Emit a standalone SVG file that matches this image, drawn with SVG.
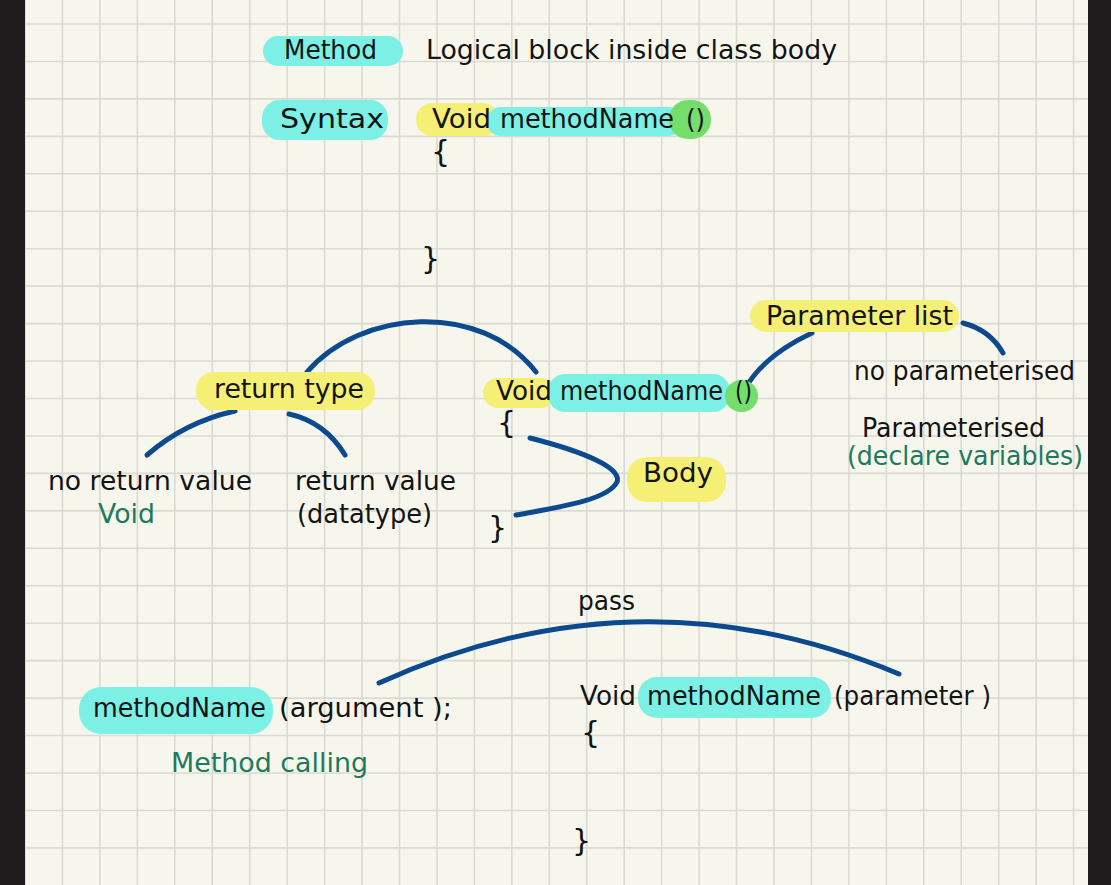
<svg xmlns="http://www.w3.org/2000/svg" width="1111" height="885" viewBox="0 0 1111 885">
<style>
text{font-family:"DejaVu Sans","Liberation Sans",sans-serif;font-size:26px;fill:#141414}
.g{fill:#1d7a5c}
.br{font-size:30px}
.cy{fill:#7cf0e4}
.ye{fill:#f5ef76}
.gr{fill:#74dd6c}
.ln{fill:none;stroke:#0c4a8d;stroke-width:5;stroke-linecap:round}
.grid{fill:none;stroke:#dadad5;stroke-width:1.6}
</style>
<rect x="0" y="0" width="1111" height="885" fill="#f7f6ed"/>
<path class="grid" d="M25 0V885M62.45 0V885M99.9 0V885M137.35 0V885M174.8 0V885M212.25 0V885M249.7 0V885M287.15 0V885M324.6 0V885M362.05 0V885M399.5 0V885M436.95 0V885M474.4 0V885M511.85 0V885M549.3 0V885M586.75 0V885M624.2 0V885M661.65 0V885M699.1 0V885M736.55 0V885M774 0V885M811.45 0V885M848.9 0V885M886.35 0V885M923.8 0V885M961.25 0V885M998.7 0V885M1036.15 0V885M1073.6 0V885M25 24H1088M25 61.45H1088M25 98.9H1088M25 136.35H1088M25 173.8H1088M25 211.25H1088M25 248.7H1088M25 286.15H1088M25 323.6H1088M25 361.05H1088M25 398.5H1088M25 435.95H1088M25 473.4H1088M25 510.85H1088M25 548.3H1088M25 585.75H1088M25 623.2H1088M25 660.65H1088M25 698.1H1088M25 735.55H1088M25 773H1088M25 810.45H1088M25 847.9H1088"/>
<rect x="0" y="0" width="25" height="885" fill="#1e1c1c"/>
<rect x="1088" y="0" width="23" height="885" fill="#1e1c1c"/>

<g id="connectors">
<path class="ln" d="M307 372C360 310 480 300 536 372"/>
<path class="ln" d="M235 411Q185 422 147 455"/>
<path class="ln" d="M289 414Q325 422 345 455"/>
<path class="ln" d="M812 333Q765 355 746 387"/>
<path class="ln" d="M963 323Q990 330 1003 353"/>
<path class="ln" d="M530 438C585 452 622 468 617 482C608 500 560 507 516 515"/>
<path class="ln" d="M379 683Q640 565 899 674"/>
</g>

<g id="method-def">
<rect class="cy" x="263" y="36" width="140" height="30" rx="15"/>
<text x="284" y="59" textLength="93" lengthAdjust="spacingAndGlyphs">Method</text>
<text x="426" y="59" textLength="411" lengthAdjust="spacingAndGlyphs">Logical block inside class body</text>
</g>

<g id="syntax">
<rect class="cy" x="262" y="100" width="126" height="40" rx="18"/>
<text x="280" y="128" textLength="104" lengthAdjust="spacingAndGlyphs">Syntax</text>
<rect class="ye" x="416" y="103" width="83" height="33" rx="16"/>
<rect class="cy" x="487" y="107" width="195" height="29" rx="14"/>
<rect class="gr" x="669" y="100" width="42" height="39" rx="19"/>
<text x="432" y="128" textLength="59" lengthAdjust="spacingAndGlyphs">Void</text>
<text x="500" y="128" textLength="174" lengthAdjust="spacingAndGlyphs">methodName</text>
<text x="686" y="128" textLength="19" lengthAdjust="spacingAndGlyphs">()</text>
<text class="br" x="431" y="162">{</text>
<text class="br" x="421" y="269">}</text>
</g>

<g id="return-type">
<rect class="ye" x="196" y="372" width="179" height="38" rx="18"/>
<text x="214" y="398" textLength="150" lengthAdjust="spacingAndGlyphs">return type</text>
</g>

<g id="no-return">
<text x="48" y="490" textLength="204" lengthAdjust="spacingAndGlyphs">no return value</text>
<text class="g" x="98" y="523" textLength="57" lengthAdjust="spacingAndGlyphs">Void</text>
</g>

<g id="return-value">
<text x="295" y="490" textLength="161" lengthAdjust="spacingAndGlyphs">return value</text>
<text x="297" y="523" textLength="135" lengthAdjust="spacingAndGlyphs">(datatype)</text>
</g>

<g id="signature">
<rect class="ye" x="483" y="378" width="73" height="30" rx="15"/>
<rect class="cy" x="548" y="374" width="182" height="38" rx="17"/>
<rect class="gr" x="725" y="380" width="33" height="32" rx="16"/>
<text x="496" y="400" textLength="56" lengthAdjust="spacingAndGlyphs">Void</text>
<text x="560" y="400" textLength="163" lengthAdjust="spacingAndGlyphs">methodName</text>
<text x="735" y="400" textLength="17" lengthAdjust="spacingAndGlyphs">()</text>
<text class="br" x="497" y="433">{</text>
<text class="br" x="488" y="538">}</text>
</g>

<g id="body">
<rect class="ye" x="627" y="457" width="99" height="45" rx="20"/>
<text x="643" y="482" textLength="70" lengthAdjust="spacingAndGlyphs">Body</text>
</g>

<g id="parameter-list">
<rect class="ye" x="750" y="300" width="209" height="32" rx="16"/>
<text x="766" y="325" textLength="187" lengthAdjust="spacingAndGlyphs">Parameter list</text>
</g>

<g id="no-param">
<text x="854" y="380" textLength="221" lengthAdjust="spacingAndGlyphs">no parameterised</text>
</g>

<g id="param">
<text x="862" y="437" textLength="183" lengthAdjust="spacingAndGlyphs">Parameterised</text>
<text class="g" x="847" y="465" textLength="236" lengthAdjust="spacingAndGlyphs">(declare variables)</text>
</g>

<g id="pass-label">
<text x="578" y="610" textLength="57" lengthAdjust="spacingAndGlyphs">pass</text>
</g>

<g id="call">
<rect class="cy" x="79" y="687" width="194" height="47" rx="22"/>
<text x="93" y="717" textLength="173" lengthAdjust="spacingAndGlyphs">methodName</text>
<text x="279" y="717" textLength="173" lengthAdjust="spacingAndGlyphs">(argument );</text>
<text class="g" x="171" y="772" textLength="197" lengthAdjust="spacingAndGlyphs">Method calling</text>
</g>

<g id="definition">
<rect class="cy" x="638" y="677" width="193" height="41" rx="19"/>
<text x="580" y="705" textLength="56" lengthAdjust="spacingAndGlyphs">Void</text>
<text x="647" y="705" textLength="174" lengthAdjust="spacingAndGlyphs">methodName</text>
<text x="834" y="705" textLength="157" lengthAdjust="spacingAndGlyphs">(parameter )</text>
<text class="br" x="581" y="743">{</text>
<text class="br" x="572" y="851">}</text>
</g>
</svg>
